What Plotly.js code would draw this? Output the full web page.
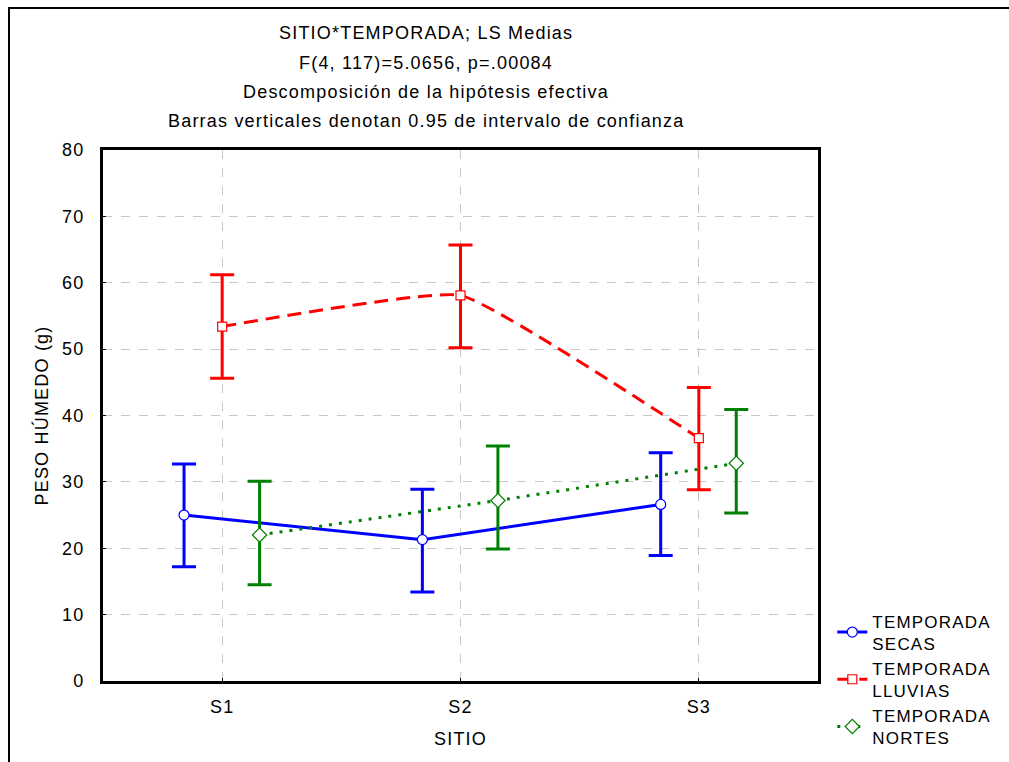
<!DOCTYPE html>
<html>
<head>
<meta charset="utf-8">
<script src="https://cdn.plot.ly/plotly-3.0.1.min.js"></script>
<style>
html,body{margin:0;padding:0;background:#fff;}
#wrap{position:relative;width:1009px;height:762px;}
#chart{position:absolute;left:0;top:0;width:1009px;height:762px;}
text{letter-spacing:1.2px;}
#frame{position:absolute;left:8px;top:7px;width:1001px;height:755px;border-left:2px solid #000;border-top:2px solid #000;box-sizing:border-box;pointer-events:none;}
</style>
</head>
<body>
<div id="wrap"><div id="chart"></div><div id="frame"></div></div>
<script>
const sites = ["S1", "S2", "S3"];
const seriesNames = ["TEMPORADA<br>SECAS", "TEMPORADA<br>LLUVIAS", "TEMPORADA<br>NORTES"];
const secasMean = [25.0, 21.3, 26.6];
const secasLow  = [17.2, 13.4, 18.9];
const secasHigh = [32.7, 28.9, 34.4];
const lluviasMean = [53.4, 58.1, 36.6];
const lluviasLow  = [45.6, 50.2, 28.8];
const lluviasHigh = [61.2, 65.7, 44.2];
const nortesMean = [22.0, 27.2, 32.8];
const nortesLow  = [14.5, 19.9, 25.3];
const nortesHigh = [30.1, 35.4, 40.9];
const yTicks = [0, 10, 20, 30, 40, 50, 60, 70, 80];
const titleLines = [
  "SITIO*TEMPORADA; LS Medias",
  "F(4, 117)=5.0656, p=.00084",
  "Descomposición de la hipótesis efectiva",
  "Barras verticales denotan 0.95 de intervalo de confianza"
];

const FONT = "Arial, 'Liberation Sans', sans-serif";
const offsets = [-0.16, 0, 0.157];
const colors = ["#0000FF", "#FF0000", "#008000"];
const lineStyles = [
  {dash: "solid", shape: "linear"},
  {dash: "14px,8px", shape: "spline"},
  {dash: "3px,7px", shape: "spline"}
];
const means = [secasMean, lluviasMean, nortesMean];
const lows = [secasLow, lluviasLow, nortesLow];
const highs = [secasHigh, lluviasHigh, nortesHigh];

const traces = means.map((m, s) => ({
  type: "scatter",
  mode: "lines+markers",
  name: seriesNames[s],
  x: sites.map((_, i) => i + 1 + offsets[s]),
  y: m,
  line: {color: colors[s], width: 3, dash: lineStyles[s].dash, shape: lineStyles[s].shape, smoothing: 0.35},
  marker: {symbol: ["circle", "square", "diamond"][s], size: [10, 9, 11][s], color: "#fff",
           line: {color: colors[s], width: 1.2}},
  error_y: {
    type: "data", symmetric: false,
    array: m.map((v, i) => highs[s][i] - v),
    arrayminus: m.map((v, i) => v - lows[s][i]),
    color: colors[s], thickness: 3, width: 12
  }
}));

const annotations = titleLines.map((t, i) => ({
  text: t, xref: "paper", yref: "paper",
  x: 0.452, y: [1.220, 1.164, 1.109, 1.055][i],
  xanchor: "center", yanchor: "middle", showarrow: false,
  font: {family: FONT, size: 18, color: "#000"}
}));

const layout = {
  width: 1009, height: 762,
  margin: {l: 103, r: 191, t: 150, b: 81, autoexpand: false},
  paper_bgcolor: "#fff", plot_bgcolor: "#fff",
  showlegend: true,
  legend: {x: 1.02, y: 0.146, xanchor: "left", yanchor: "top",
           font: {family: FONT, size: 17, color: "#000"},
           bgcolor: "rgba(0,0,0,0)", tracegroupgap: 0, itemwidth: 30},
  xaxis: {
    range: [0.5, 3.5], tickvals: [1, 2, 3], ticktext: sites,
    showgrid: true, gridcolor: "#c8c8c8", griddash: "dash", gridwidth: 1,
    zeroline: false, showline: true, linecolor: "#000", linewidth: 3, mirror: true,
    ticks: "inside", ticklen: 3, tickcolor: "#000", ticklabelstandoff: 7,
    tickfont: {family: FONT, size: 18, color: "#000"},
    title: {text: "SITIO", font: {family: FONT, size: 18, color: "#000"}, standoff: 17}
  },
  yaxis: {
    range: [0, 80], tickvals: yTicks,
    showgrid: true, gridcolor: "#c8c8c8", griddash: "dash", gridwidth: 1,
    zeroline: false, showline: true, linecolor: "#000", linewidth: 3, mirror: true,
    ticks: "inside", ticklen: 3, tickcolor: "#000", ticklabelstandoff: 12,
    tickfont: {family: FONT, size: 18, color: "#000"},
    title: {text: "PESO HÚMEDO (g)", font: {family: FONT, size: 18, color: "#000"}, standoff: 9}
  },
  annotations: annotations
};

Plotly.newPlot("chart", traces, layout, {displayModeBar: false, staticPlot: true});
</script>
</body>
</html>
